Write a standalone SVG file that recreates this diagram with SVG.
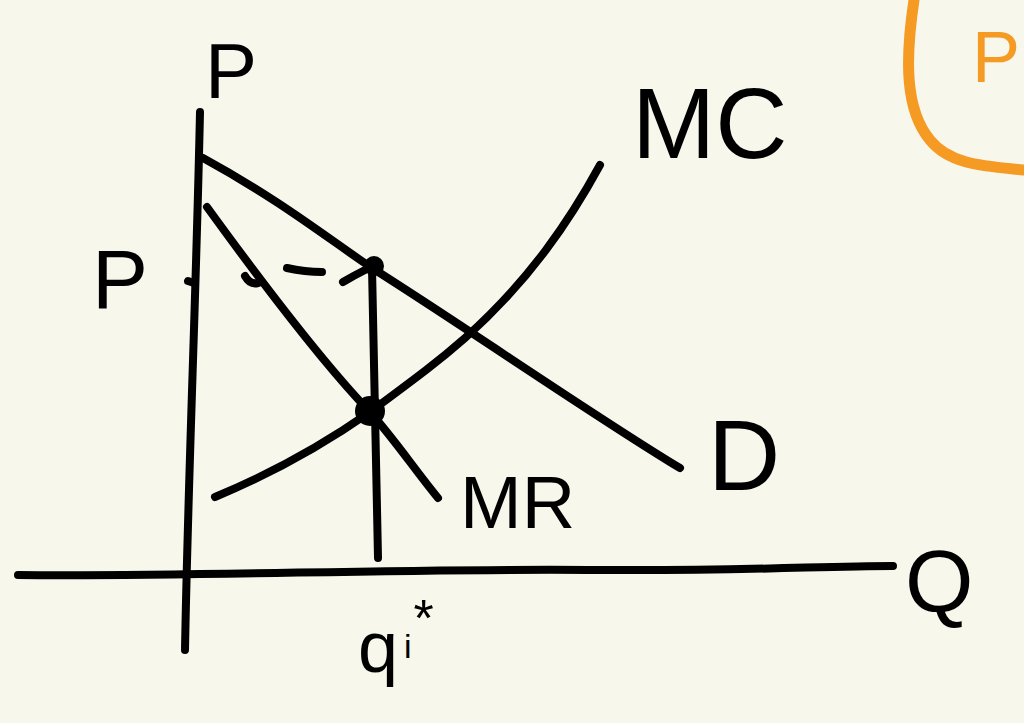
<svg xmlns="http://www.w3.org/2000/svg" width="1024" height="723" viewBox="0 0 1024 723">
<style>
.ln{fill:none;stroke:#000;stroke-width:8;stroke-linecap:round;stroke-linejoin:round}
.lbl{font-family:"Liberation Sans",Arial,sans-serif;fill:#000}
.or{fill:none;stroke:#f59a22;stroke-width:11;stroke-linecap:round;stroke-linejoin:round}
</style>
<rect width="1024" height="723" fill="#f8f7ec"/>
<g id="axes">
<path class="ln" d="M200 112 C196 300 188 480 185 650"/>
<path class="ln" d="M18 575 C200 577 400 568 600 570 C750 571 820 566 893 566"/>
</g>
<g id="connectors">
<path class="ln" d="M203 158 C280 200 330 240 372 268 C470 330 600 420 680 468"/>
<path class="ln" d="M207 207 C260 280 320 360 370 412 C395 440 415 470 438 498"/>
<path class="ln" d="M215 497 C280 470 330 440 370 412 C420 375 440 360 465 338 C530 280 570 220 600 165"/>
<path class="ln" d="M372 268 C374 360 376 460 378 558"/>
<path class="ln" d="M188 281 L194 283 M245 276 Q250 285 258 283 M287 268 Q305 272 322 272 M343 282 Q355 275 365 270"/>
<circle cx="370" cy="411" r="15" fill="#000"/>
<circle cx="374" cy="266" r="10" fill="#000"/>
</g>
<g id="label-P-top"><text class="lbl" x="205" y="98" font-size="78">P</text></g>
<g id="label-P-left"><text class="lbl" x="92" y="308" font-size="84">P</text></g>
<g id="label-MC"><text class="lbl" x="632" y="158" font-size="100">MC</text></g>
<g id="label-D"><text class="lbl" x="708" y="490" font-size="100">D</text></g>
<g id="label-MR"><text class="lbl" x="460" y="528" font-size="74">MR</text></g>
<g id="label-Q"><text class="lbl" x="905" y="612" font-size="88">Q</text></g>
<g id="label-q"><text class="lbl" x="358" y="672" font-size="72">q<tspan font-size="34" dx="6" dy="-14">i</tspan><tspan font-size="52" dx="2" dy="-22">*</tspan></text></g>
<g id="orange">
<path class="or" d="M914 0 C905 60 905 110 930 140 C950 165 985 166 1024 170"/>
<text x="972" y="82" font-family="Liberation Sans,Arial,sans-serif" font-size="72" fill="#f59a22">P</text>
</g>
</svg>
